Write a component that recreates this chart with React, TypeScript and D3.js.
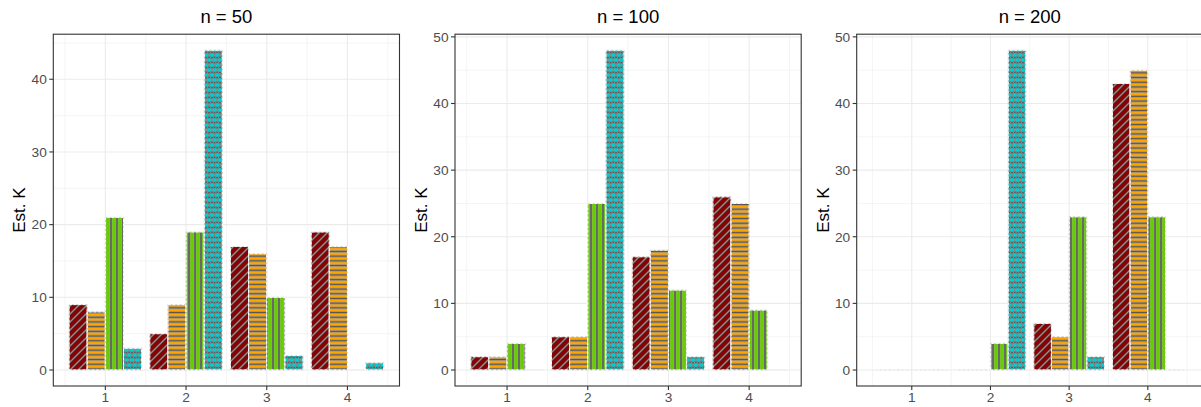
import React from "react";
import * as d3 from "d3";

// ---- data -------------------------------------------------------------
const categories = [1, 2, 3, 4];
const panelTitles = ["n = 50", "n = 100", "n = 200"];

// n = 50
const n50Diagonal = [9, 5, 17, 19];
const n50Horizontal = [8, 9, 16, 17];
const n50Vertical = [21, 19, 10, 0];
const n50Crosshatch = [3, 44, 2, 1];

// n = 100
const n100Diagonal = [2, 5, 17, 26];
const n100Horizontal = [2, 5, 18, 25];
const n100Vertical = [4, 25, 12, 9];
const n100Crosshatch = [0, 48, 2, 0];

// n = 200
const n200Diagonal = [0, 0, 7, 43];
const n200Horizontal = [0, 0, 5, 45];
const n200Vertical = [0, 4, 23, 23];
const n200Crosshatch = [0, 48, 2, 0];

const yTicksN50 = [0, 10, 20, 30, 40];
const yTicksN100 = [0, 10, 20, 30, 40, 50];
const yTicksN200 = [0, 10, 20, 30, 40, 50];

const yLabel = "Est. K";

// ---- layout -----------------------------------------------------------
const W = 1201;
const H = 407;
const panelLefts = [53.3, 455, 856.7];
const panelWidth = 346.2;
const panelTop = 34.2;
const panelBottom = 386;
// x extents of the drawn bars per panel (before 5% expansion)
const xExtents: [number, number][] = [
  [0.55, 4.45],
  [0.55, 4.45],
  [0.5, 4.5],
];
const dodgeWidth = 0.9;

const patternIds = ["pDiag", "pHoriz", "pVert", "pCross"];
const baseFills = ["#8B0000", "#FFA500", "#66CD00", "#00CED1"];

const font = "'Liberation Sans', Arial, Helvetica, sans-serif";

type PanelSpec = {
  title: string;
  series: number[][];
  yTicks: number[];
};

const panels: PanelSpec[] = [
  { title: panelTitles[0], series: [n50Diagonal, n50Horizontal, n50Vertical, n50Crosshatch], yTicks: yTicksN50 },
  { title: panelTitles[1], series: [n100Diagonal, n100Horizontal, n100Vertical, n100Crosshatch], yTicks: yTicksN100 },
  { title: panelTitles[2], series: [n200Diagonal, n200Horizontal, n200Vertical, n200Crosshatch], yTicks: yTicksN200 },
];

function expand([a, b]: [number, number], m = 0.05): [number, number] {
  const d = (b - a) * m;
  return [a - d, b + d];
}

function Patterns() {
  const dots = [
    [2.75, 5],
    [0, 0],
    [5.5, 0],
    [0, 10],
    [5.5, 10],
  ];
  return (
    <defs>
      <pattern id="pDiag" patternUnits="userSpaceOnUse" width={8} height={8}>
        <rect width={8} height={8} fill="#8B0000" />
        <path d="M-2,2 L2,-2 M0,8 L8,0 M6,10 L10,6" stroke="#6e6e6e" strokeWidth={1.7} />
        <path d="M-2,2 L2,-2 M0,8 L8,0 M6,10 L10,6" stroke="#b4b4b4" strokeWidth={0.5} />
      </pattern>
      <pattern id="pHoriz" patternUnits="userSpaceOnUse" width={10} height={4.7}>
        <rect width={10} height={4.7} fill="#FFA500" />
        <rect x={-1} y={1.4} width={12} height={1.9} fill="#555555" stroke="#a6a6a6" strokeWidth={0.5} />
      </pattern>
      <pattern id="pVert" patternUnits="userSpaceOnUse" width={6} height={10}>
        <rect width={6} height={10} fill="#66CD00" />
        <rect x={2} y={-1} width={2} height={12} fill="#555555" stroke="#a6a6a6" strokeWidth={0.5} />
      </pattern>
      <pattern id="pCross" patternUnits="userSpaceOnUse" width={5.5} height={10}>
        <rect width={5.5} height={10} fill="#5c5c5c" />
        <path
          d="M2.75,0 L5.5,5 L2.75,10 L0,5 Z"
          fill="none"
          stroke="#b0b0b0"
          strokeWidth={0.6}
        />
        {dots.map(([cx, cy], i) => (
          <circle key={i} cx={cx} cy={cy} r={2.05} fill="#00CED1" />
        ))}
      </pattern>
    </defs>
  );
}

function Panel({ spec, index }: { spec: PanelSpec; index: number }) {
  const left = panelLefts[index];
  const right = left + panelWidth;
  const x = d3.scaleLinear().domain(expand(xExtents[index])).range([left, right]);
  const yMax = d3.max(spec.series.flat()) ?? 0;
  const y = d3.scaleLinear().domain(expand([0, yMax])).range([panelBottom, panelTop]);

  const [x0, x1] = x.domain();
  const xMinor = d3.range(Math.ceil(x0 - 0.5) + 0.5, x1, 1).filter((v) => v > x0 && v < x1);
  const [y0, y1] = y.domain();
  const step = spec.yTicks[1] - spec.yTicks[0];
  const yMinor = d3
    .range(spec.yTicks[0] - step / 2, y1 + step, step)
    .filter((v) => v > y0 && v < y1);
  const yMajor = spec.yTicks.filter((v) => v >= y0 && v <= y1);

  const nSeries = spec.series.length;
  const barW = dodgeWidth / nSeries;

  const bars: { key: string; d: string; s: number }[] = [];
  spec.series.forEach((vals, s) => {
    vals.forEach((v, ci) => {
      const c = categories[ci];
      const xa = x(c - dodgeWidth / 2 + s * barW);
      const xb = x(c - dodgeWidth / 2 + (s + 1) * barW);
      const ya = y(0);
      const yb = y(v);
      bars.push({
        key: `${s}-${ci}`,
        d: `M${xa},${ya}H${xb}V${yb}H${xa}Z`,
        s,
      });
    });
  });

  const clipId = `clip${index}`;
  const cx = (left + right) / 2;
  const cy = (panelTop + panelBottom) / 2;

  return (
    <g>
      <clipPath id={clipId}>
        <rect x={left} y={panelTop} width={panelWidth} height={panelBottom - panelTop} />
      </clipPath>
      <rect x={left} y={panelTop} width={panelWidth} height={panelBottom - panelTop} fill="#ffffff" />
      <g clipPath={`url(#${clipId})`}>
        {yMinor.map((v) => (
          <line key={`ym${v}`} x1={left} x2={right} y1={y(v)} y2={y(v)} stroke="#ebebeb" strokeWidth={0.55} />
        ))}
        {xMinor.map((v) => (
          <line key={`xm${v}`} x1={x(v)} x2={x(v)} y1={panelTop} y2={panelBottom} stroke="#ebebeb" strokeWidth={0.55} />
        ))}
        {yMajor.map((v) => (
          <line key={`yM${v}`} x1={left} x2={right} y1={y(v)} y2={y(v)} stroke="#ebebeb" strokeWidth={1.1} />
        ))}
        {categories.map((v) => (
          <line key={`xM${v}`} x1={x(v)} x2={x(v)} y1={panelTop} y2={panelBottom} stroke="#ebebeb" strokeWidth={1.1} />
        ))}
        {bars.map((b) => (
          <g key={b.key}>
            <path d={b.d} fill={baseFills[b.s]} />
            <path d={b.d} fill={`url(#${patternIds[b.s]})`} stroke="#dcdcdc" strokeWidth={1} />
            <path d={b.d} fill="none" stroke="#ffffff" strokeWidth={1} strokeDasharray="2.5 2" />
          </g>
        ))}
      </g>
      <rect
        x={left}
        y={panelTop}
        width={panelWidth}
        height={panelBottom - panelTop}
        fill="none"
        stroke="#333333"
        strokeWidth={1.1}
      />
      {/* y axis */}
      {yMajor.map((v) => (
        <g key={`yt${v}`}>
          <line x1={left - 4} x2={left} y1={y(v)} y2={y(v)} stroke="#333333" strokeWidth={1.1} />
          <text
            x={left - 6.5}
            y={y(v)}
            dy="0.35em"
            textAnchor="end"
            fontFamily={font}
            fontSize={13.7}
            fill="#4d4d4d"
          >
            {v}
          </text>
        </g>
      ))}
      {/* x axis */}
      {categories.map((v) => (
        <g key={`xt${v}`}>
          <line x1={x(v)} x2={x(v)} y1={panelBottom} y2={panelBottom + 4} stroke="#333333" strokeWidth={1.1} />
          <text
            x={x(v)}
            y={panelBottom + 15.7}
            textAnchor="middle"
            fontFamily={font}
            fontSize={13.7}
            fill="#4d4d4d"
          >
            {v}
          </text>
        </g>
      ))}
      <text
        transform={`translate(${left - 28},${cy}) rotate(-90)`}
        textAnchor="middle"
        fontFamily={font}
        fontSize={17}
        fill="#000000"
      >
        {yLabel}
      </text>
      <text x={cx} y={23.3} textAnchor="middle" fontFamily={font} fontSize={18.5} fill="#000000">
        {spec.title}
      </text>
    </g>
  );
}

export default function App() {
  return (
    <svg
      width={W}
      height={H}
      viewBox={`0 0 ${W} ${H}`}
      style={{ position: "absolute", left: 0, top: 0, background: "#ffffff" }}
    >
      <Patterns />
      <rect width={W} height={H} fill="#ffffff" />
      {panels.map((p, i) => (
        <Panel key={p.title} spec={p} index={i} />
      ))}
    </svg>
  );
}
